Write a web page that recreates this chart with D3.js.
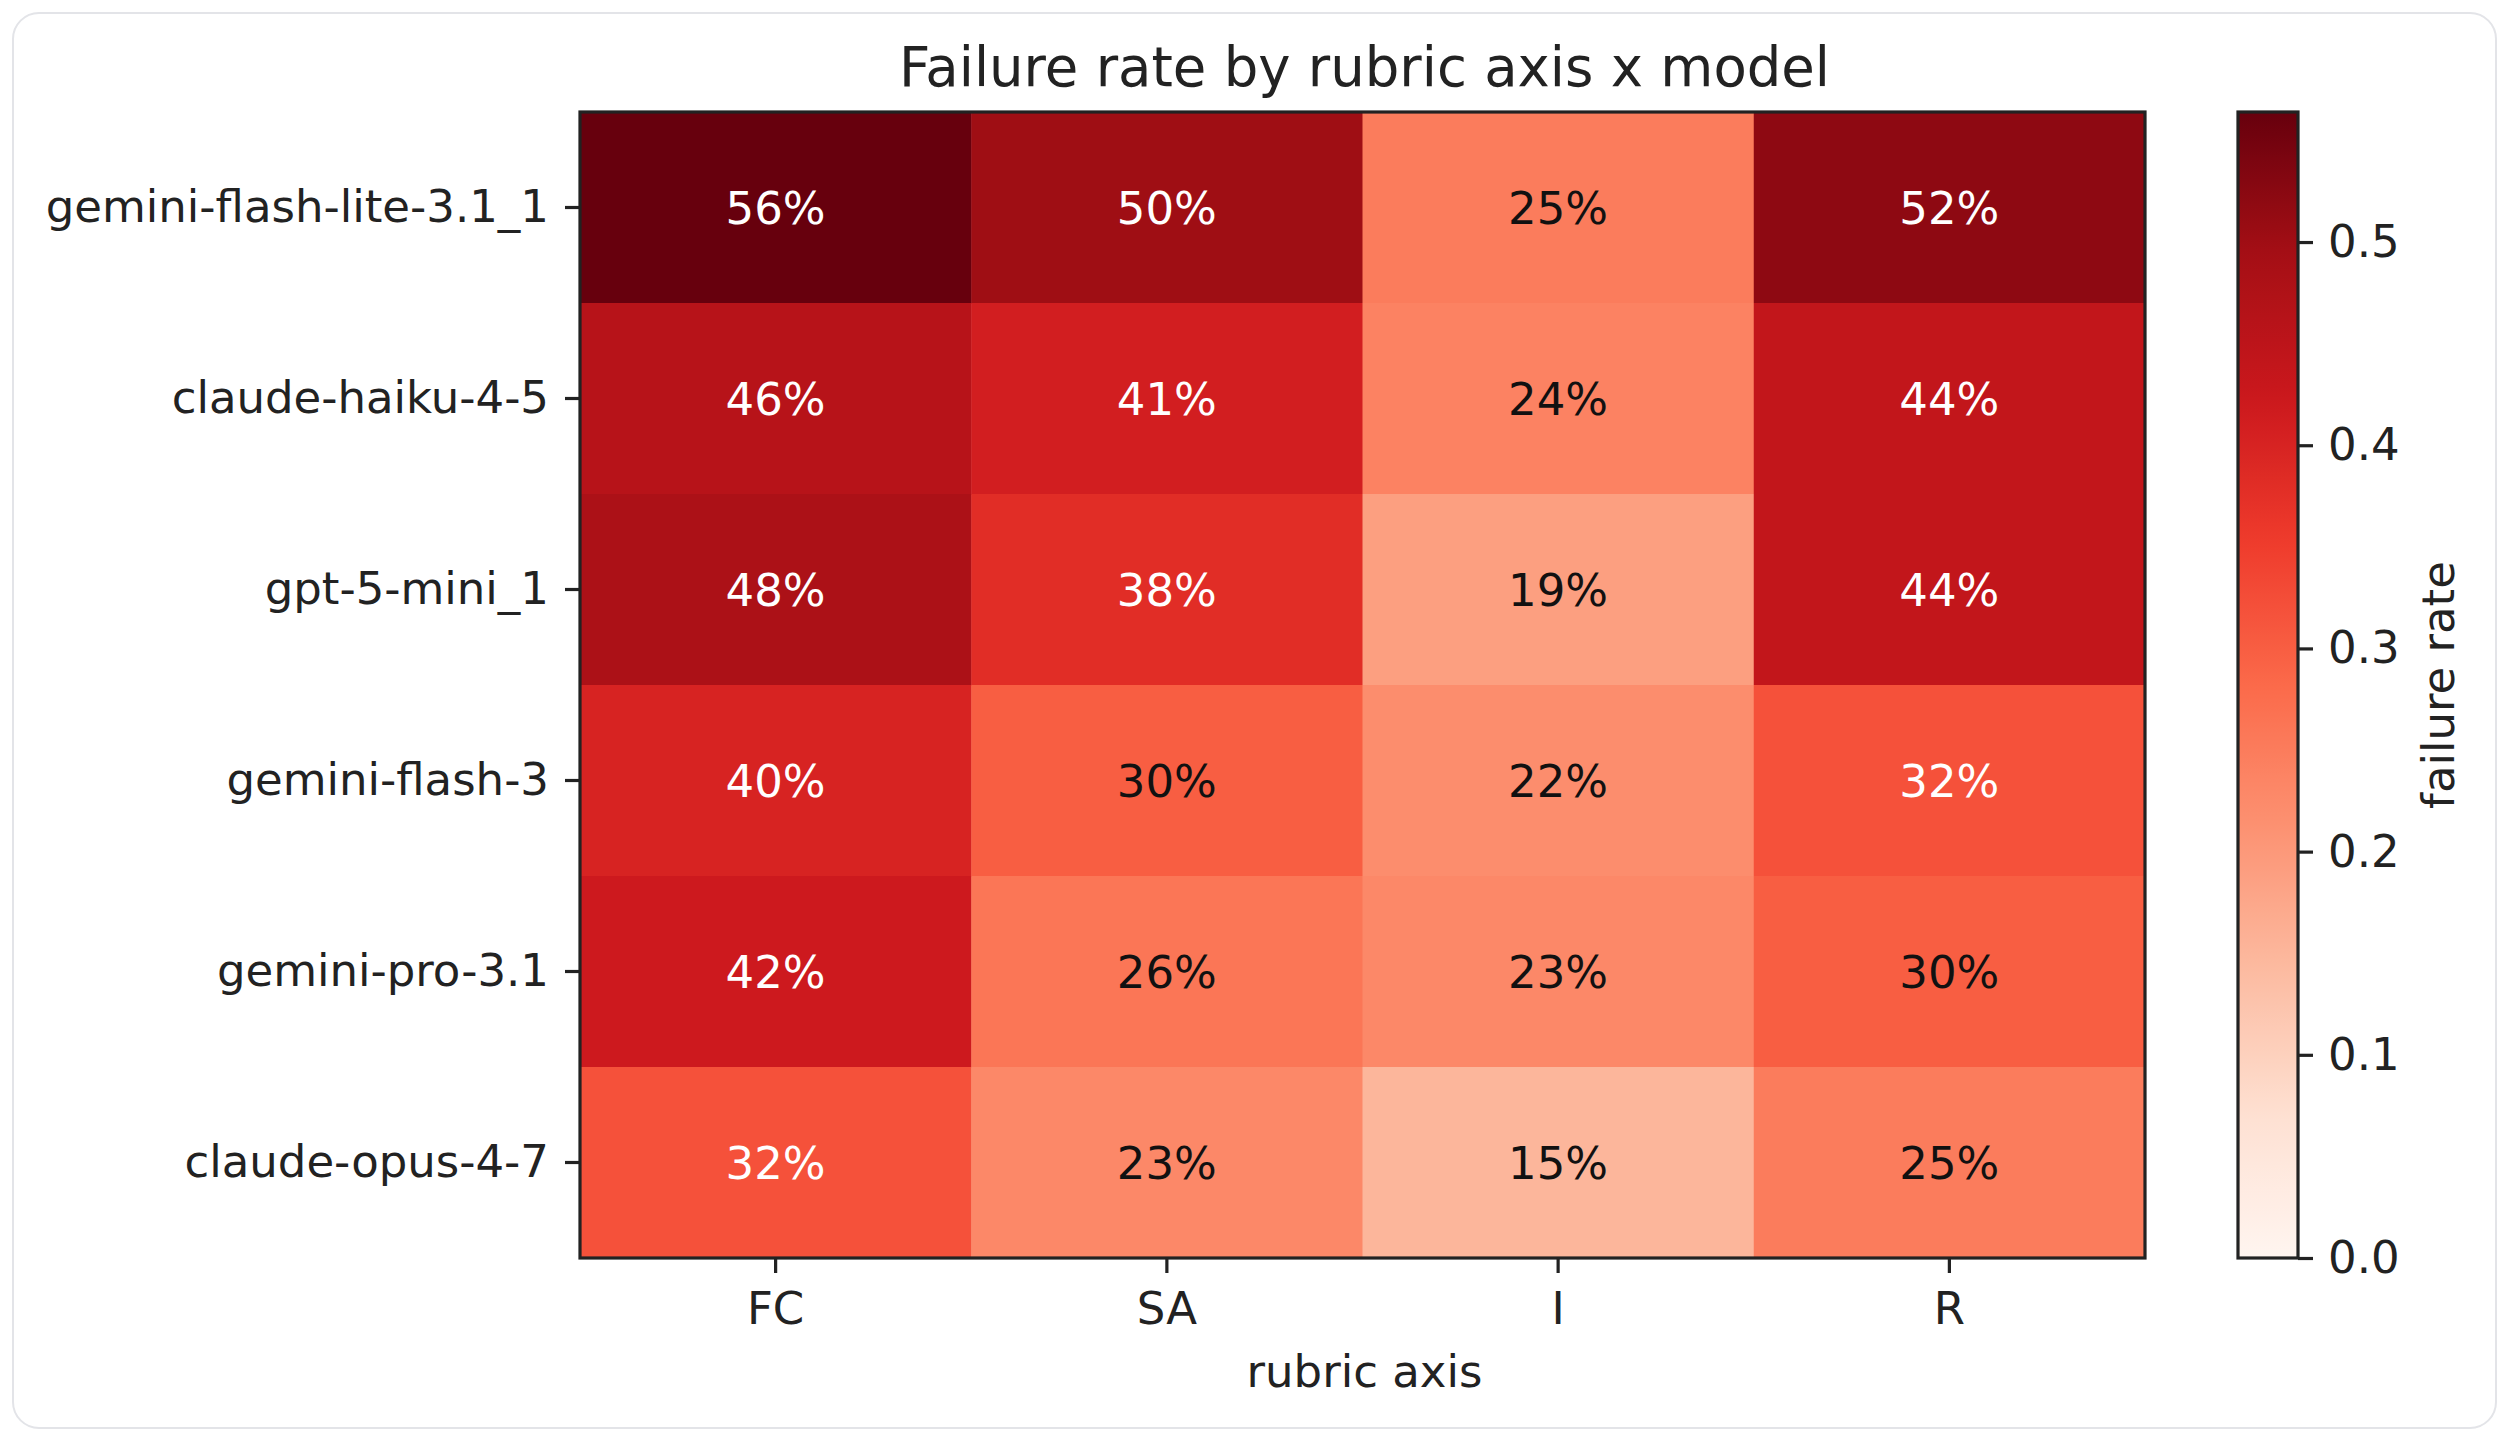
<!DOCTYPE html>
<html>
<head>
<meta charset="utf-8">
<script src="https://cdn.jsdelivr.net/npm/d3@7"></script>
<style>
  body { margin: 0; background: #fff; }
  svg text { font-family: "DejaVu Sans", sans-serif; fill: #222; }
</style>
</head>
<body>
<svg id="chart" width="2510" height="1442"></svg>
<script>
// data
const models = ["gemini-flash-lite-3.1_1", "claude-haiku-4-5", "gpt-5-mini_1",
                "gemini-flash-3", "gemini-pro-3.1", "claude-opus-4-7"];
const axes = ["FC", "SA", "I", "R"];
// failure rate per model (rows) and rubric axis (columns)
const rate_fc = [0.564, 0.46, 0.48, 0.40, 0.42, 0.32];
const rate_sa = [0.50, 0.41, 0.38, 0.30, 0.26, 0.23];
const rate_i  = [0.25, 0.24, 0.19, 0.22, 0.23, 0.15];
const rate_r  = [0.52, 0.44, 0.44, 0.32, 0.30, 0.25];
const cbarTicks = [0.0, 0.1, 0.2, 0.3, 0.4, 0.5];

const columns = [rate_fc, rate_sa, rate_i, rate_r];
let cells = [];
models.forEach(function(m, i) {
    axes.forEach(function(a, j) {
        cells.push({model: m, axis: a, value: columns[j][i]});
    });
});

let svg = d3.select("#chart");

// card border
svg.append("rect")
    .attr("x", 13).attr("y", 13)
    .attr("width", 2483).attr("height", 1415)
    .attr("rx", 26)
    .style("fill", "#fff")
    .style("stroke", "#e3e4e8")
    .style("stroke-width", 2);

let pLeft = 580, pRight = 2145, pTop = 112, pBottom = 1258;
let fs = 45;

let x = d3.scaleBand().domain(axes).range([pLeft, pRight]);
let y = d3.scaleBand().domain(models).range([pTop, pBottom]);

let vmax = d3.max(cells, function(d) { return d.value; });
// matplotlib "Reds" (ColorBrewer 9 class, linear)
let reds = ["#fff5f0", "#fee0d2", "#fcbba1", "#fc9272", "#fb6a4a",
            "#ef3b2c", "#cb181d", "#a50f15", "#67000d"];
let color = d3.scaleLinear()
    .domain(d3.range(reds.length).map(function(i) { return i * vmax / (reds.length - 1); }))
    .range(reds)
    .interpolate(d3.interpolateRgb);

// heatmap cells
svg.append("g").selectAll("rect")
    .data(cells)
    .enter()
    .append("rect")
        .attr("x", function(d) { return x(d.axis); })
        .attr("y", function(d) { return y(d.model); })
        .attr("width", x.bandwidth() + 0.5)
        .attr("height", y.bandwidth() + 0.5)
        .style("fill", function(d) { return color(d.value); });

// cell labels
svg.append("g").selectAll("text")
    .data(cells)
    .enter()
    .append("text")
        .attr("x", function(d) { return x(d.axis) + x.bandwidth() / 2; })
        .attr("y", function(d) { return y(d.model) + y.bandwidth() / 2; })
        .attr("dy", "0.36em")
        .attr("text-anchor", "middle")
        .attr("font-size", fs + "px")
        .style("fill", function(d) { return d.value > 0.31 ? "#fff" : "#111"; })
        .text(function(d) { return Math.round(d.value * 100) + "%"; });

// frame
svg.append("rect")
    .attr("x", pLeft).attr("y", pTop)
    .attr("width", pRight - pLeft).attr("height", pBottom - pTop)
    .style("fill", "none")
    .style("stroke", "#222")
    .style("stroke-width", 3.2);

// axes
let xAxis = svg.append("g")
    .attr("transform", "translate(0," + pBottom + ")")
    .call(d3.axisBottom(x).tickSize(15).tickPadding(19));
let yAxis = svg.append("g")
    .attr("transform", "translate(" + pLeft + ",0)")
    .call(d3.axisLeft(y).tickSize(15).tickPadding(16));
[xAxis, yAxis].forEach(function(g) {
    g.select(".domain").remove();
    g.selectAll("line").style("stroke", "#222").style("stroke-width", 3.2);
    g.selectAll("text").attr("font-size", fs + "px").style("fill", "#222")
        .style("font-family", "DejaVu Sans");
});

// title + axis label
svg.append("text")
    .attr("x", (pLeft + pRight) / 2 + 2)
    .attr("y", 86)
    .attr("text-anchor", "middle")
    .attr("font-size", "54.5px")
    .text("Failure rate by rubric axis x model");

svg.append("text")
    .attr("x", (pLeft + pRight) / 2 + 2)
    .attr("y", 1387)
    .attr("text-anchor", "middle")
    .attr("font-size", fs + "px")
    .text("rubric axis");

// colorbar
let cbLeft = 2238, cbWidth = 60;
let c = d3.scaleLinear().domain([0, vmax]).range([pBottom, pTop]);

let grad = svg.append("defs").append("linearGradient")
    .attr("id", "cbar")
    .attr("x1", "0").attr("y1", "1").attr("x2", "0").attr("y2", "0");
grad.selectAll("stop")
    .data(d3.range(0, 1.0001, 0.02))
    .enter()
    .append("stop")
        .attr("offset", function(t) { return t; })
        .attr("stop-color", function(t) { return color(t * vmax); });

svg.append("rect")
    .attr("x", cbLeft).attr("y", pTop)
    .attr("width", cbWidth).attr("height", pBottom - pTop)
    .style("fill", "url(#cbar)")
    .style("stroke", "#222")
    .style("stroke-width", 3.2);

let cAxis = svg.append("g")
    .attr("transform", "translate(" + (cbLeft + cbWidth) + ",0)")
    .call(d3.axisRight(c).tickValues(cbarTicks).tickFormat(d3.format(".1f"))
        .tickSize(15).tickPadding(15));
cAxis.select(".domain").remove();
cAxis.selectAll("line").style("stroke", "#222").style("stroke-width", 3.2);
cAxis.selectAll("text").attr("font-size", fs + "px").style("fill", "#222")
    .style("font-family", "DejaVu Sans");

svg.append("text")
    .attr("transform", "translate(2454," + ((pTop + pBottom) / 2) + ") rotate(-90)")
    .attr("text-anchor", "middle")
    .attr("font-size", fs + "px")
    .text("failure rate");
</script>
</body>
</html>
